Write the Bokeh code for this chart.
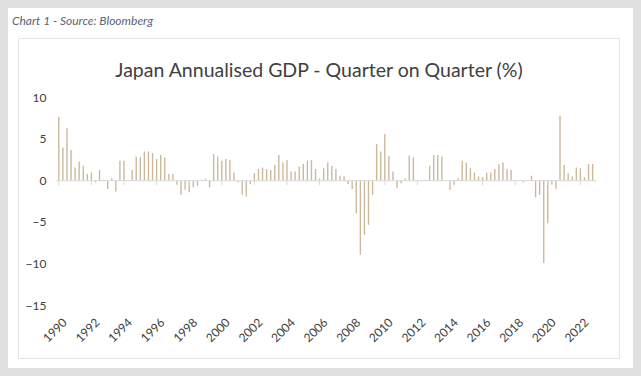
import math
from bokeh.plotting import figure
from bokeh.models import Range1d, FixedTicker, Span, Div, ColumnDataSource
from bokeh.layouts import column
from bokeh.embed import file_html
from bokeh.resources import INLINE

# ---- data ----
quarters = [f"{y}Q{q}" for y in range(1990, 2023) for q in range(1, 5)]
gdp_qoq = [
    7.7, 4.0, 6.3, 3.7,      # 1990
    1.6, 2.3, 1.8, 0.8,      # 1991
    1.0, -0.2, 1.3, 0.1,     # 1992
    -1.0, 0.3, -1.3, 2.4,    # 1993
    2.4, 0.05, 1.3, 2.9,     # 1994
    2.85, 3.5, 3.5, 3.3,     # 1995
    2.6, 3.1, 2.8, 0.85,     # 1996
    0.8, -0.5, -1.7, -1.1,   # 1997
    -1.4, -0.8, -0.6, 0.1,   # 1998
    0.25, -0.8, 3.2, 2.9,    # 1999
    2.4, 2.6, 2.5, 1.0,      # 2000
    -0.2, -1.7, -1.9, -0.4,  # 2001
    0.9, 1.4, 1.6, 1.4,      # 2002
    1.3, 1.9, 3.1, 2.2,      # 2003
    2.5, 1.1, 1.1, 1.7,      # 2004
    2.0, 2.4, 2.5, 1.4,      # 2005
    0.25, 1.5, 2.2, 1.8,     # 2006
    1.4, 0.6, 0.5, -0.4,     # 2007
    -1.0, -3.9, -8.9, -6.5,  # 2008
    -5.3, -1.7, 4.4, 3.5,    # 2009
    5.6, 3.0, 1.1, -0.9,     # 2010
    -0.3, 0.25, 3.0, 2.8,    # 2011
    0.05, -0.1, 0.1, 1.8,    # 2012
    3.1, 3.1, 2.9, 0.05,     # 2013
    -1.1, -0.5, 0.3, 2.4,    # 2014
    2.2, 1.5, 1.0, 0.5,      # 2015
    0.4, 1.0, 1.0, 1.4,      # 2016
    2.0, 2.2, 1.4, 1.3,      # 2017
    0.05, 0.05, -0.2, 0.05,  # 2018
    0.6, -2.0, -1.7, -9.9,   # 2019
    -5.1, -0.5, -1.0, 7.8,   # 2020
    1.9, 0.9, 0.5, 1.6,      # 2021
    1.5, 0.4, 2.0, 2.0,      # 2022
]
tick_years = list(range(1990, 2023, 2))
y_ticks = [-15, -10, -5, 0, 5, 10]

title_text = "Japan Annualised GDP - Quarter on Quarter (%)"
caption_text = "Chart 1 - Source: Bloomberg"

# ---- build ----
pos = list(range(len(gdp_qoq)))
src = ColumnDataSource(dict(x=pos, top=gdp_qoq, q=quarters))
tick_pos = [quarters.index(f"{y}Q1") for y in tick_years]
# rotated labels are centred on the tick in the reference; Bokeh anchors
# them at their end, so the label anchors sit a little to the right
LABEL_SHIFT = 1.5
label_pos = [t + LABEL_SHIFT for t in tick_pos]

FONT = "Lato"

p = figure(width=600, height=279, output_backend="svg", toolbar_location=None,
           x_range=Range1d(-0.81, 131.95), y_range=Range1d(-15, 10),
           min_border_left=36, min_border_right=23, min_border_top=18,
           min_border_bottom=53, margin=(0, 0, 0, 0))

p.outline_line_color = None
p.background_fill_color = "white"
p.border_fill_color = "white"
p.xgrid.visible = False
p.ygrid.visible = False

p.vbar(x="x", top="top", bottom=0, width=0.34, source=src,
       fill_color="#cbb99c", line_color=None)

p.add_layout(Span(location=0, dimension="width", line_color="#d9d9d9", line_width=1))
p.segment(x0=tick_pos, y0=[0] * len(tick_pos), x1=tick_pos, y1=[-0.55] * len(tick_pos),
          line_color="#d9d9d9", line_width=1)

xa = p.xaxis[0]
xa.ticker = FixedTicker(ticks=label_pos)
xa.major_label_overrides = {t: str(y) for t, y in zip(label_pos, tick_years)}
xa.major_label_orientation = math.pi / 4
xa.axis_line_color = None
xa.major_tick_line_color = None
xa.minor_tick_line_color = None
xa.major_label_text_font = FONT
xa.major_label_text_font_size = "12px"
xa.major_label_text_color = "#404040"
xa.major_label_standoff = 9

ya = p.yaxis[0]
ya.ticker = FixedTicker(ticks=y_ticks)
ya.axis_line_color = None
ya.major_tick_line_color = None
ya.minor_tick_line_color = None
ya.major_label_text_font = FONT
ya.major_label_text_font_size = "12px"
ya.major_label_text_color = "#404040"
ya.major_label_standoff = 3

title_div = Div(text=title_text, width=600, height=40, margin=(0, 0, 0, 0),
                styles={"font-family": FONT, "font-size": "19.5px", "color": "#404040",
                        "text-align": "center", "line-height": "23px",
                        "padding-top": "19px", "box-sizing": "border-box"})

box = column(title_div, p, width=600, height=319, spacing=0, margin=(0, 0, 0, 11),
             styles={"outline": "1px solid #e6e6e6", "background-color": "white"})

cap = Div(text=f"<i>{caption_text}</i>", width=600, height=27, margin=(4, 0, 0, 4),
          styles={"font-family": FONT, "font-size": "12px", "color": "#5a6472"})

layout = column(cap, box, width=625, height=360, spacing=0, margin=(8, 0, 0, 8),
                styles={"background-color": "white"})

html = file_html(layout, INLINE)
html = html.replace("<head>", "<head><style>body{background:#e0e0e0;}</style>", 1)
open("out.html", "w").write(html)
